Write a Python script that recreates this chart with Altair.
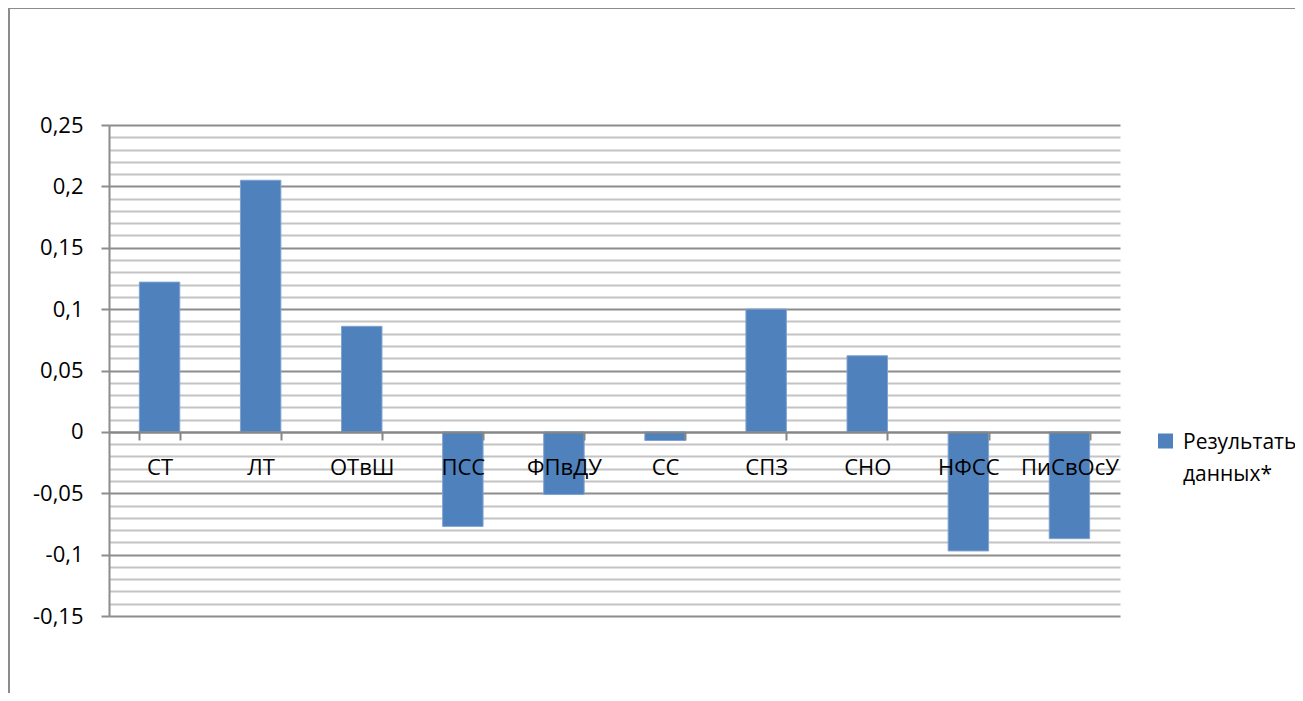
import altair as alt
import pandas as pd

categories = ["СТ", "ЛТ", "ОТвШ", "ПСС", "ФПвДУ", "СС", "СПЗ", "СНО", "НФСС", "ПиСвОсУ"]
values = [0.122, 0.205, 0.086, -0.077, -0.051, -0.007, 0.100, 0.062, -0.097, -0.087]
series_name = "Результать данных*"
y_domain = [-0.15, 0.25]
grid_values = [round(-0.15 + 0.01 * i, 2) for i in range(41)]

df = pd.DataFrame({"cat": categories, "val": values, "series": [series_name] * len(categories)})

W, H = 1011, 491
FONT = "Open Sans"
major = "abs(datum.value*20 - round(datum.value*20)) < 0.001"

bars = alt.Chart(df).mark_bar(stroke="#7fa3d1", strokeWidth=1).encode(
    x=alt.X(
        "cat:N", sort=None, title=None,
        scale=alt.Scale(paddingInner=0.6, paddingOuter=0.3),
        axis=alt.Axis(
            offset=-184, domainColor="#868686", domainWidth=2,
            tickColor="#868686", tickWidth=2, tickSize=8, tickBand="extent",
            labelAngle=0, labelFont=FONT, labelFontSize=22, labelColor="black",
            labelBaseline="alphabetic", labelPadding=34, labelOverlap=False,
            grid=False, zindex=1,
        ),
    ),
    y=alt.Y(
        "val:Q", title=None,
        scale=alt.Scale(domain=y_domain, nice=False, zero=False),
        axis=alt.Axis(
            values=grid_values, grid=True, gridWidth=2,
            gridColor={"condition": {"test": major, "value": "#8c8c8c"}, "value": "#c4c4c4"},
            domainColor="#8c8c8c", domainWidth=2,
            tickColor="#8c8c8c", tickWidth=2, tickSize=8,
            tickOpacity={"condition": {"test": major, "value": 1}, "value": 0},
            labelExpr="(" + major + ") ? replace(replace(format(datum.value, '~g'), '.', ','), '\u2212', '-') : ''",
            labelOverlap=False, labelPadding=18, labelFont=FONT, labelFontSize=22,
            labelColor="black",
        ),
    ),
    color=alt.Color(
        "series:N", scale=alt.Scale(range=["#4f81bd"]),
        legend=alt.Legend(
            title=None, orient="none", legendX=1046, legendY=313,
            symbolType="M-1,-2H1V0H-1Z", symbolSize=225, symbolStrokeWidth=0,
            labelFont=FONT, labelFontSize=21, labelColor="black",
            labelBaseline="alphabetic", labelExpr="split(datum.label, ' ')",
            labelOffset=7, padding=0,
        ),
    ),
)

frame = alt.Chart(pd.DataFrame({"f": [0]})).mark_rect(
    filled=False, stroke="#8c8c8c", strokeWidth=2
).encode(
    x=alt.value(-100), x2=alt.value(W + 400),
    y=alt.value(-117), y2=alt.value(H + 400),
)

chart = alt.layer(frame, bars).properties(
    width=W, height=H,
    autosize=alt.AutoSizeParams(type="none"),
    padding={"left": 101, "top": 117, "right": 175, "bottom": 77},
).configure(
    style={"guide-label": {"lineHeight": 32}}
).configure_view(stroke=None)

chart.save("out.html", embed_options={"renderer": "svg", "actions": False})
